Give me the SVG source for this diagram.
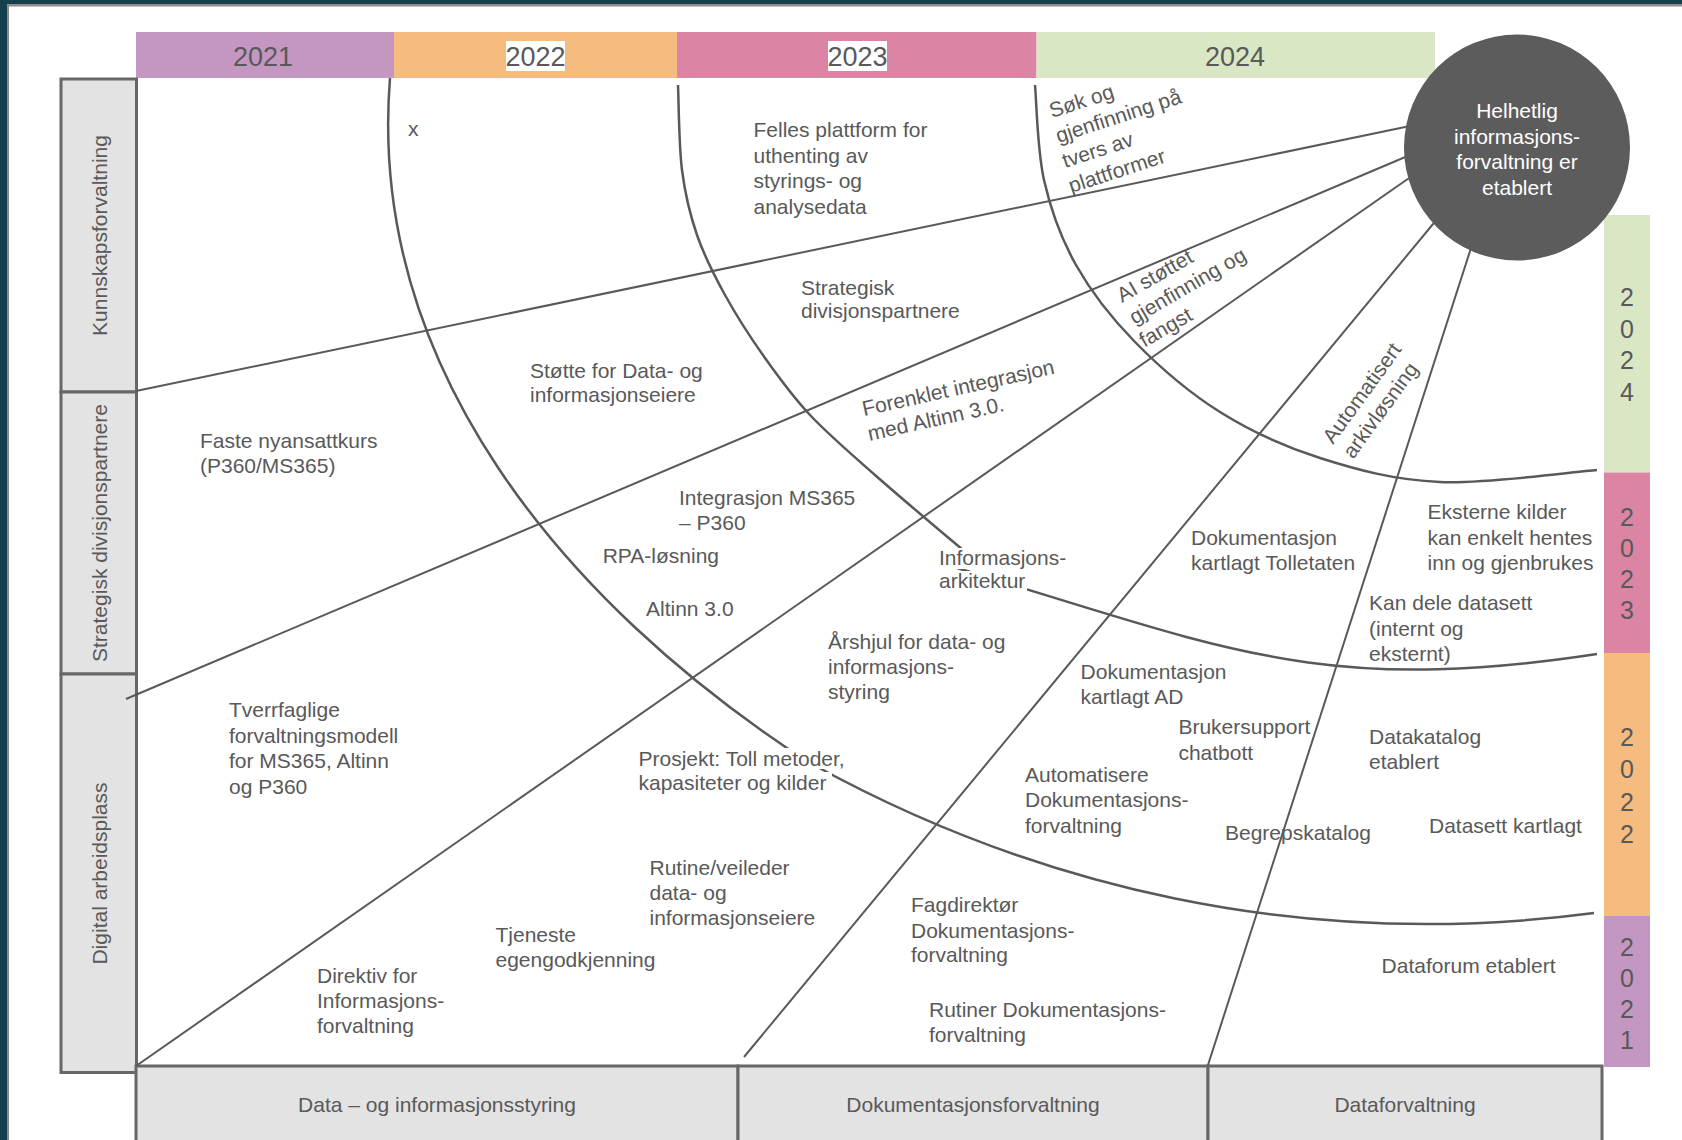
<svg xmlns="http://www.w3.org/2000/svg" width="1682" height="1140" viewBox="0 0 1682 1140">
<style>
.t{font-family:"Liberation Sans",Arial,sans-serif;font-size:21px;fill:#595959}
.yr{font-family:"Liberation Sans",Arial,sans-serif;font-size:27px;fill:#595959;text-anchor:middle}
.vd{font-family:"Liberation Sans",Arial,sans-serif;font-size:25px;fill:#595959;text-anchor:middle}
.side{font-family:"Liberation Sans",Arial,sans-serif;font-size:21px;fill:#595959;text-anchor:middle}
.box{fill:#e3e3e3;stroke:#676767;stroke-width:3}
.crv{fill:none;stroke:#595959;stroke-width:2.5}
.ln{fill:none;stroke:#595959;stroke-width:2}
.wt{font-family:"Liberation Sans",Arial,sans-serif;font-size:21px;fill:#ffffff;text-anchor:middle}
.bg{fill:#ffffff}
</style>
<rect x="0" y="0" width="1682" height="1140" fill="#ffffff"/>
<g id="frame">
<rect x="0" y="0" width="1682" height="4" fill="#133f4e"/>
<rect x="7" y="4" width="1675" height="2.5" fill="#8c8c8c"/>
<rect x="0" y="0" width="7" height="1140" fill="#133f4e"/>
<rect x="7" y="4" width="2" height="1136" fill="#8c8c8c"/>
</g>
<g id="header-years">
<rect x="136" y="32" width="258" height="46" fill="#c397c2"/>
<rect x="394" y="32" width="283" height="46" fill="#f6bb7e"/>
<rect x="677" y="32" width="359.5" height="46" fill="#db84a4"/>
<rect x="1036.5" y="32" width="398.5" height="46" fill="#d9e7c5"/>
<rect x="506" y="41" width="59" height="30" class="bg"/>
<rect x="828" y="41" width="59" height="30" class="bg"/>
<text class="yr" x="263" y="66">2021</text>
<text class="yr" x="535.5" y="66">2022</text>
<text class="yr" x="857.5" y="66">2023</text>
<text class="yr" x="1235" y="66">2024</text>
</g>
<g id="row-kunnskapsforvaltning">
<rect class="box" x="61" y="79" width="75.5" height="313"/>
<text class="side" transform="translate(107,235.5) rotate(-90)">Kunnskapsforvaltning</text>
</g>
<g id="row-strategisk">
<rect class="box" x="61" y="392" width="75.5" height="282"/>
<text class="side" transform="translate(107,533) rotate(-90)">Strategisk divisjonspartnere</text>
</g>
<g id="row-digital">
<rect class="box" x="61" y="674" width="75.5" height="398.5"/>
<text class="side" transform="translate(107,873.5) rotate(-90)">Digital arbeidsplass</text>
</g>
<g id="col-data-info">
<rect class="box" x="136" y="1066" width="602" height="80"/>
<text class="side" x="437" y="1112">Data – og informasjonsstyring</text>
</g>
<g id="col-dokumentasjon">
<rect class="box" x="738" y="1066" width="470" height="80"/>
<text class="side" x="973" y="1112">Dokumentasjonsforvaltning</text>
</g>
<g id="col-dataforvaltning">
<rect class="box" x="1208" y="1066" width="394" height="80"/>
<text class="side" x="1405" y="1112">Dataforvaltning</text>
</g>
<g id="side-years">
<rect x="1604" y="215" width="46" height="257.5" fill="#d9e7c5"/>
<rect x="1604" y="472.5" width="46" height="180.5" fill="#db84a4"/>
<rect x="1604" y="653" width="46" height="263" fill="#f6bb7e"/>
<rect x="1604" y="916" width="46" height="151" fill="#c397c2"/>
<text class="vd" x="1627" y="306">2</text><text class="vd" x="1627" y="337.5">0</text><text class="vd" x="1627" y="369">2</text><text class="vd" x="1627" y="400.5">4</text>
<text class="vd" x="1627" y="526">2</text><text class="vd" x="1627" y="557">0</text><text class="vd" x="1627" y="588">2</text><text class="vd" x="1627" y="619">3</text>
<text class="vd" x="1627" y="746">2</text><text class="vd" x="1627" y="778">0</text><text class="vd" x="1627" y="810.5">2</text><text class="vd" x="1627" y="843">2</text>
<text class="vd" x="1627" y="956">2</text><text class="vd" x="1627" y="987">0</text><text class="vd" x="1627" y="1018">2</text><text class="vd" x="1627" y="1049">1</text>
</g>
<g id="connectors">
<path class="crv" d="M390,78 C367,366 563,602 805,760"/>
<path class="crv" d="M812,764 C1031,884.5 1297,952 1594,913"/>
<path class="crv" d="M678,85 C678.7,99.2 678.8,145 682,170 C685.2,195 689.8,214.2 697,235 C704.2,255.8 713.7,274.5 725,295 C736.3,315.5 750.8,338 765,358 C779.2,378 791.7,395.5 810,415 C828.3,434.5 850.5,453.3 875,475 C899.5,496.7 939.8,530.5 957,545 C974.2,559.5 974.5,559.2 978,562"/>
<path class="crv" d="M957,568 C1225,648.4 1320,696 1597,654"/>
<path class="crv" d="M1035,85 C1036.5,100.8 1037.2,150 1044,180 C1050.8,210 1060.8,238 1076,265 C1091.2,292 1111,317.5 1135,342 C1159,366.5 1189.2,392.7 1220,412 C1250.8,431.3 1283.3,446.3 1320,458 C1356.7,469.7 1393.8,480 1440,482 C1486.2,484 1570.8,472 1597,470"/>
<line class="ln" x1="136" y1="391" x2="1410" y2="126"/>
<line class="ln" x1="126" y1="699" x2="1410" y2="155"/>
<line class="ln" x1="136" y1="1066" x2="1412" y2="176"/>
<line class="ln" x1="744" y1="1057" x2="1438" y2="218"/>
<line class="ln" x1="1208" y1="1065" x2="1471" y2="248"/>
</g>
<g id="goal">
<circle cx="1517" cy="147.5" r="113" fill="#5c5c5d"/>
<text class="wt" x="1517" y="118">Helhetlig</text>
<text class="wt" x="1517" y="144">informasjons-</text>
<text class="wt" x="1517" y="169">forvaltning er</text>
<text class="wt" x="1517" y="195">etablert</text>
</g>
<g id="labels">
<text class="t" x="408" y="136">x</text>
<g id="felles-plattform"><text class="t" x="753.5" y="137">Felles plattform for</text><text class="t" x="753.5" y="162.5">uthenting av</text><text class="t" x="753.5" y="188">styrings- og</text><text class="t" x="753.5" y="213.5">analysedata</text></g>
<g id="sok-og" transform="translate(1052,118) rotate(-18)"><text class="t" x="0" y="0">Søk og</text><text class="t" x="-1.6" y="25.8">gjenfinning på</text><text class="t" x="-3.2" y="51.6">tvers av</text><text class="t" x="-4.8" y="77.4">plattformer</text></g>
<g id="ai-stottet" transform="translate(1122,303) rotate(-30)"><text class="t" x="0" y="0">AI støttet</text><text class="t" x="0" y="25">gjenfinning og</text><text class="t" x="-3" y="50">fangst</text></g>
<g id="strategisk"><text class="t" x="801" y="295">Strategisk</text><text class="t" x="801" y="318">divisjonspartnere</text></g>
<g id="stotte"><text class="t" x="530" y="378">Støtte for Data- og</text><text class="t" x="530" y="402">informasjonseiere</text></g>
<g id="forenklet" transform="translate(864,416) rotate(-12.5)"><text class="t" x="0" y="0">Forenklet integrasjon</text><text class="t" x="0" y="25.5">med Altinn 3.0.</text></g>
<g id="faste"><text class="t" x="200" y="448">Faste nyansattkurs</text><text class="t" x="200" y="473">(P360/MS365)</text></g>
<g id="integrasjon"><text class="t" x="679" y="505">Integrasjon MS365</text><text class="t" x="679" y="530">– P360</text></g>
<text class="t" x="602.7" y="563">RPA-løsning</text>
<text class="t" x="646" y="616">Altinn 3.0</text>
<g id="informasjonsarkitektur"><rect class="bg" x="937" y="548" width="130" height="21"/><rect class="bg" x="937" y="571" width="90" height="22"/><text class="t" x="939" y="564.5">Informasjons-</text><text class="t" x="939" y="587.5">arkitektur</text></g>
<g id="dok-tolletaten"><text class="t" x="1191" y="545">Dokumentasjon</text><text class="t" x="1191" y="570">kartlagt Tolletaten</text></g>
<g id="eksterne"><text class="t" x="1427.6" y="519">Eksterne kilder</text><text class="t" x="1427.6" y="545">kan enkelt hentes</text><text class="t" x="1427.6" y="570">inn og gjenbrukes</text></g>
<g id="kan-dele"><text class="t" x="1369" y="610">Kan dele datasett</text><text class="t" x="1369" y="635.5">(internt og</text><text class="t" x="1369" y="661">eksternt)</text></g>
<g id="arshjul"><text class="t" x="828" y="649">Årshjul for data- og</text><text class="t" x="828" y="674">informasjons-</text><text class="t" x="828" y="698.5">styring</text></g>
<g id="dok-ad"><text class="t" x="1080.6" y="679">Dokumentasjon</text><text class="t" x="1080.6" y="704">kartlagt AD</text></g>
<g id="brukersupport"><text class="t" x="1178.4" y="734">Brukersupport</text><text class="t" x="1178.4" y="759.5">chatbott</text></g>
<g id="datakatalog"><text class="t" x="1369" y="744">Datakatalog</text><text class="t" x="1369" y="769">etablert</text></g>
<g id="tverrfaglige"><text class="t" x="229" y="717">Tverrfaglige</text><text class="t" x="229" y="742.5">forvaltningsmodell</text><text class="t" x="229" y="768">for MS365, Altinn</text><text class="t" x="229" y="793.5">og P360</text></g>
<g id="prosjekt"><rect class="bg" x="636" y="748" width="216" height="21"/><rect class="bg" x="636" y="772" width="196" height="23"/><text class="t" x="638.5" y="766">Prosjekt: Toll metoder,</text><text class="t" x="638.5" y="789.5">kapasiteter og kilder</text></g>
<g id="automatisere"><text class="t" x="1025" y="781.5">Automatisere</text><text class="t" x="1025" y="807">Dokumentasjons-</text><text class="t" x="1025" y="832.5">forvaltning</text></g>
<text class="t" x="1225" y="840">Begrepskatalog</text>
<text class="t" x="1429" y="833">Datasett kartlagt</text>
<g id="rutine-veileder"><text class="t" x="649.5" y="875">Rutine/veileder</text><text class="t" x="649.5" y="900">data- og</text><text class="t" x="649.5" y="925">informasjonseiere</text></g>
<g id="tjeneste"><text class="t" x="495.5" y="942">Tjeneste</text><text class="t" x="495.5" y="967">egengodkjenning</text></g>
<g id="fagdirektor"><text class="t" x="911" y="912">Fagdirektør</text><text class="t" x="911" y="938">Dokumentasjons-</text><text class="t" x="911" y="962">forvaltning</text></g>
<g id="direktiv"><text class="t" x="317" y="983">Direktiv for</text><text class="t" x="317" y="1008">Informasjons-</text><text class="t" x="317" y="1033">forvaltning</text></g>
<text class="t" x="1381.6" y="973">Dataforum etablert</text>
<g id="rutiner-dok"><text class="t" x="929" y="1017">Rutiner Dokumentasjons-</text><text class="t" x="929" y="1042">forvaltning</text></g>
<g id="automatisert" transform="translate(1333,445) rotate(-54)"><text class="t" x="0" y="0">Automatisert</text><text class="t" x="0" y="25">arkivløsning</text></g>
</g>
</svg>
